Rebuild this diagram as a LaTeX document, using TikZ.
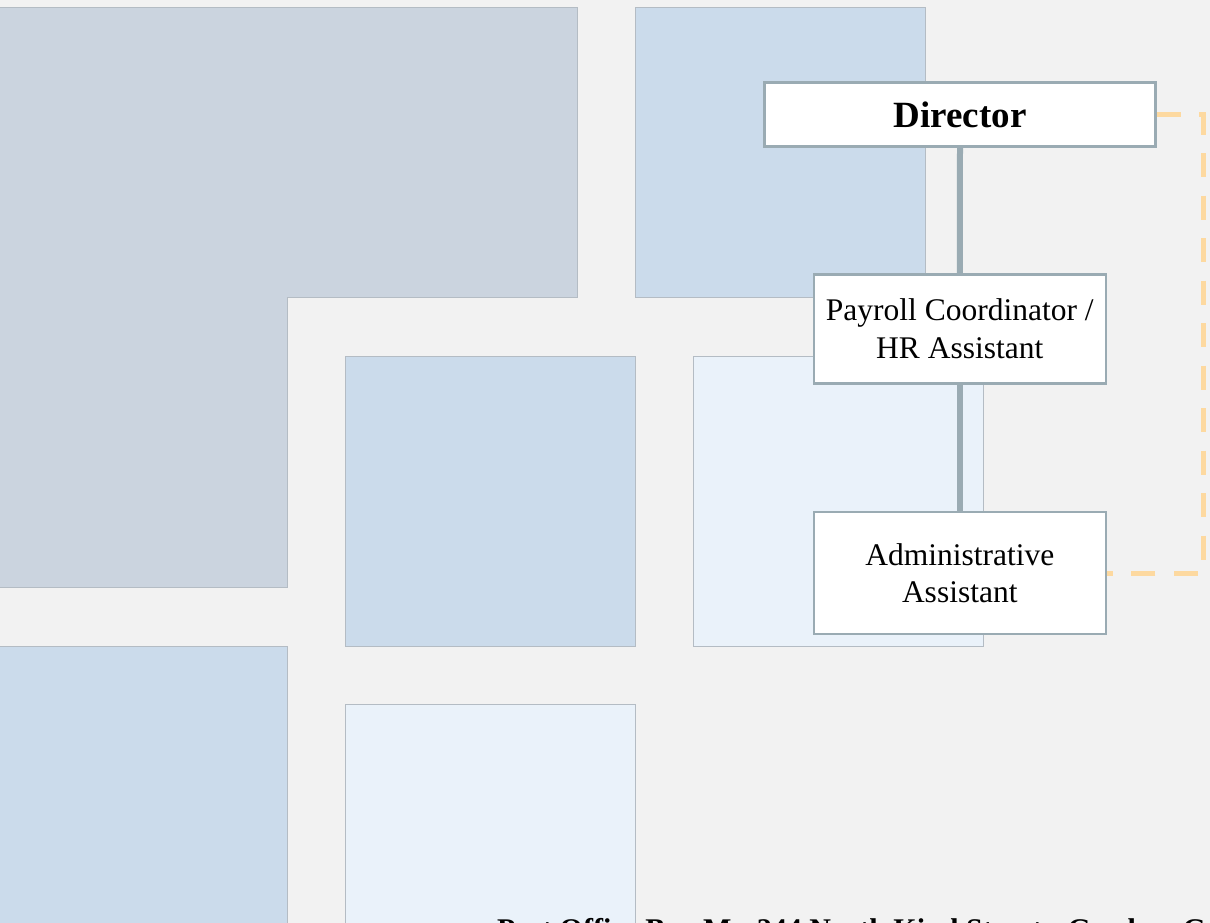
\documentclass[tikz,border=0pt]{standalone}
\usepackage{fontspec}
\setmainfont{Liberation Serif}
\usetikzlibrary{calc}
\definecolor{bg}{HTML}{F2F2F2}
\definecolor{tileL}{HTML}{CBD4DF}
\definecolor{tileB}{HTML}{CBDBEB}
\definecolor{tileW}{HTML}{EAF2FA}
\definecolor{tileedge}{HTML}{B4BCC4}
\definecolor{boxedge}{HTML}{9AABB3}
\definecolor{dashcol}{HTML}{FDD9A0}
\tikzset{
  tile/.style={draw=tileedge, line width=1pt},
  orgbox/.style={draw=boxedge, line width=2.2pt, fill=white, inner sep=0pt, align=center, text=black},
  conn/.style={draw=boxedge, line width=6pt},
  dotted link/.style={draw=dashcol, line width=5pt, dash pattern=on 24pt off 18.5pt},
}
\begin{document}
\begin{tikzpicture}[x=1pt,y=-1pt]
\useasboundingbox (0,0) rectangle (1210,923);
\clip (0,0) rectangle (1210,923);
\fill[bg] (0,0) rectangle (1210,923);
% background tiles
\draw[tile, fill=tileL] (-5,8) -- (577,8) -- (577,297) -- (287,297) -- (287,587) -- (-5,587) -- cycle;
\draw[tile, fill=tileB] (635,8) rectangle (925,297);
\draw[tile, fill=tileB] (345,356) rectangle (635,646);
\draw[tile, fill=tileW] (693,356) rectangle (983,646);
\draw[tile, fill=tileB] (-5,646) rectangle (287,1000);
\draw[tile, fill=tileW] (345,704) rectangle (635,1000);
% org chart
\node[orgbox, minimum width=391pt, minimum height=64pt, font=\fontsize{37}{44}\selectfont\bfseries] (dir) at (960,114.5) {Director};
\node[orgbox, minimum width=292pt, minimum height=109pt, font=\fontsize{31.5}{38}\selectfont] (pay) at (959.75,329) {Payroll Coordinator /\\HR Assistant};
\node[orgbox, minimum width=292pt, minimum height=122pt, font=\fontsize{31.5}{37}\selectfont] (adm) at (959.75,573) {Administrative\\Assistant};
\draw[conn] (dir.south) -- (pay.north);
\draw[conn] (pay.south) -- (adm.north);
\coordinate (cr) at (1203,114.5);
\draw[dotted link] (dir.east) -- (cr) |- (adm.east);
% address line (cut off by the lower edge, as in the reference)
\node[anchor=base west, inner sep=0pt, font=\fontsize{30}{36}\selectfont\bfseries] (addr) at (497,939.5) {Post Office Box M • 244 North Kind Street • Gordon, GA 31031};
\end{tikzpicture}
\end{document}
